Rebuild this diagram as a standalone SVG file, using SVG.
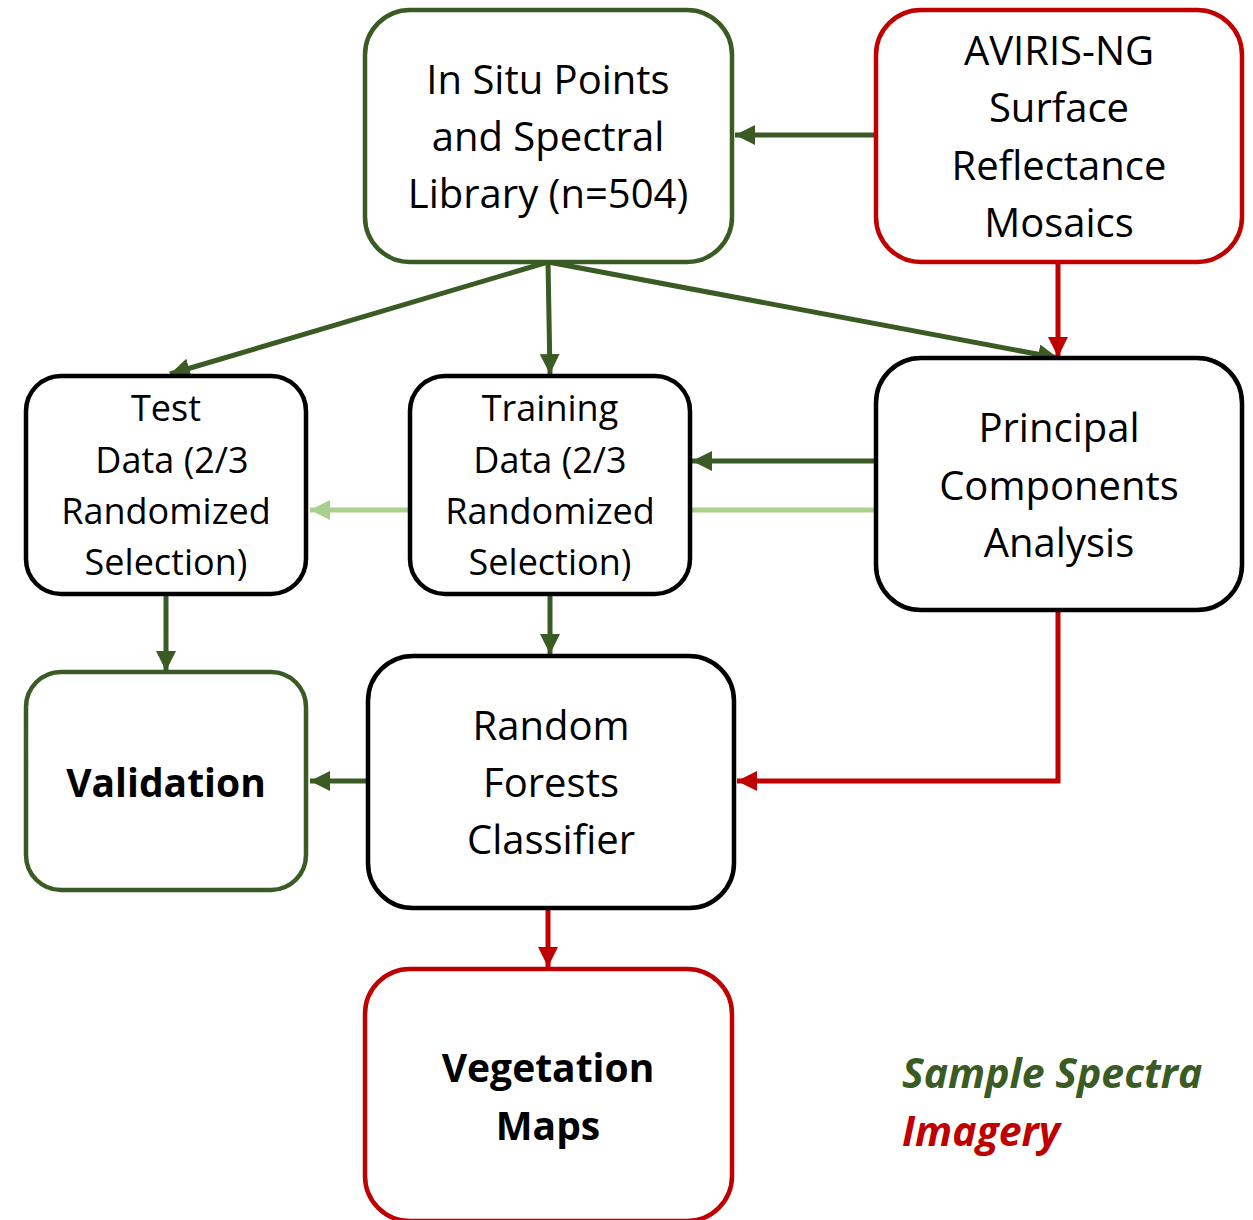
<svg xmlns="http://www.w3.org/2000/svg" width="1253" height="1220" viewBox="0 0 1253 1220">
<defs>
<style>
.box{fill:#fff;stroke-width:4.5}
.g{stroke:#3A5B23}
.r{stroke:#C00000}
.k{stroke:#000}
text{font-family:"Open Sans","Liberation Sans",sans-serif;text-anchor:middle;fill:#000}
.t1{font-size:40px}
.t2{font-size:36px}
.b{font-weight:bold;font-size:39px}
.lg{font-size:41px;font-weight:bold;font-style:italic;text-anchor:start}
.cg{fill:none;stroke:#3A5B23;stroke-width:5}
.cr{fill:none;stroke:#C00000;stroke-width:5}
.cl{fill:none;stroke:#A9D18E;stroke-width:5}
</style>
<marker id="ag" viewBox="0 0 10 10" refX="10" refY="5" markerWidth="4" markerHeight="4" orient="auto" markerUnits="strokeWidth"><path d="M0,0L10,5L0,10z" fill="#3A5B23"/></marker>
<marker id="ar" viewBox="0 0 10 10" refX="10" refY="5" markerWidth="4" markerHeight="4" orient="auto" markerUnits="strokeWidth"><path d="M0,0L10,5L0,10z" fill="#C00000"/></marker>
<marker id="al" viewBox="0 0 10 10" refX="10" refY="5" markerWidth="4" markerHeight="4" orient="auto" markerUnits="strokeWidth"><path d="M0,0L10,5L0,10z" fill="#A9D18E"/></marker>
</defs>
<g id="connectors">
<path class="cl" d="M876,510H310" marker-end="url(#al)"/>
<path class="cg" d="M876,135H735" marker-end="url(#ag)"/>
<path class="cg" d="M548,262L170,374" marker-end="url(#ag)"/>
<path class="cg" d="M548,262L550,374" marker-end="url(#ag)"/>
<path class="cg" d="M548,262L1058,358" marker-end="url(#ag)"/>
<path class="cr" d="M1058,262V357" marker-end="url(#ar)"/>
<path class="cg" d="M876,461H692" marker-end="url(#ag)"/>
<path class="cg" d="M166,594V671" marker-end="url(#ag)"/>
<path class="cg" d="M550,594V654" marker-end="url(#ag)"/>
<path class="cr" d="M1058,610V781H737" marker-end="url(#ar)"/>
<path class="cg" d="M368,781H310" marker-end="url(#ag)"/>
<path class="cr" d="M548,908V967" marker-end="url(#ar)"/>
</g>
<g id="insitu"><rect class="box g" x="365" y="10" width="367" height="252" rx="45"/>
<text class="t1"><tspan x="548" y="94">In Situ Points</tspan><tspan x="548" y="151">and Spectral</tspan><tspan x="548" y="208">Library (n=504)</tspan></text></g>
<g id="aviris"><rect class="box r" x="876" y="10" width="366" height="252" rx="45"/>
<text class="t1"><tspan x="1059" y="65">AVIRIS-NG</tspan><tspan x="1059" y="122">Surface</tspan><tspan x="1059" y="180">Reflectance</tspan><tspan x="1059" y="237">Mosaics</tspan></text></g>
<g id="test"><rect class="box k" x="26" y="376" width="280" height="218" rx="35"/>
<text class="t2"><tspan x="166" y="421">Test</tspan><tspan x="172" y="473">Data (2/3</tspan><tspan x="166" y="524">Randomized</tspan><tspan x="166" y="575">Selection)</tspan></text></g>
<g id="training"><rect class="box k" x="410" y="376" width="280" height="218" rx="35"/>
<text class="t2"><tspan x="550" y="421">Training</tspan><tspan x="550" y="473">Data (2/3</tspan><tspan x="550" y="524">Randomized</tspan><tspan x="550" y="575">Selection)</tspan></text></g>
<g id="pca"><rect class="box k" x="876" y="358" width="366" height="252" rx="45"/>
<text class="t1"><tspan x="1059" y="442">Principal</tspan><tspan x="1059" y="500">Components</tspan><tspan x="1059" y="557">Analysis</tspan></text></g>
<g id="validation"><rect class="box g" x="26" y="672" width="280" height="218" rx="35"/>
<text class="b"><tspan x="166" y="797">Validation</tspan></text></g>
<g id="rf"><rect class="box k" x="368" y="656" width="366" height="252" rx="45"/>
<text class="t1"><tspan x="551" y="740">Random</tspan><tspan x="551" y="797">Forests</tspan><tspan x="551" y="854">Classifier</tspan></text></g>
<g id="veg"><rect class="box r" x="365" y="969" width="367" height="252" rx="45"/>
<text class="b"><tspan x="548" y="1082">Vegetation</tspan><tspan x="548" y="1140">Maps</tspan></text></g>
<g id="legend">
<text class="lg" x="902" y="1088" style="fill:#3A5B23">Sample Spectra</text>
<text class="lg" x="902" y="1146" style="fill:#C00000">Imagery</text>
</g>
</svg>
